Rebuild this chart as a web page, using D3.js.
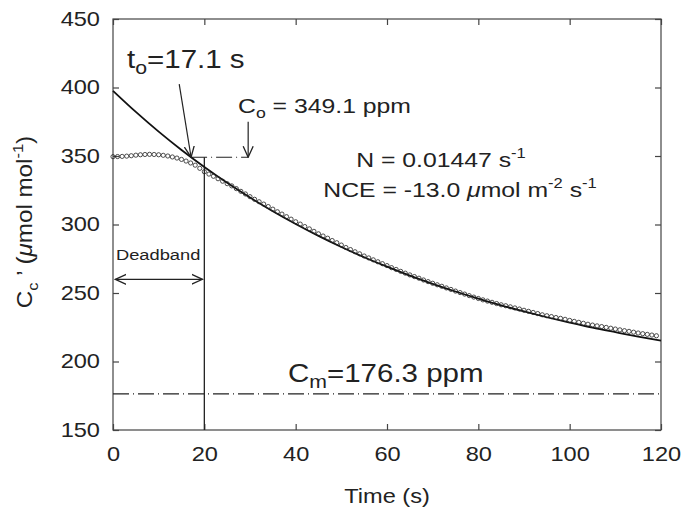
<!DOCTYPE html>
<html>
<head>
<meta charset="utf-8">
<script src="https://cdn.jsdelivr.net/npm/d3@7"></script>
<style>
  html, body { margin: 0; padding: 0; background: #fff; }
  svg text { font-family: "Liberation Sans", Arial, Helvetica, sans-serif; fill: #222; }
</style>
</head>
<body>
<svg id="chart" width="681" height="517"></svg>
<script>
// ---- Data ----
const xTicks = [0, 20, 40, 60, 80, 100, 120];
const yTicks = [150, 200, 250, 300, 350, 400, 450];

// measured Cc' (open circles), one per second, t = 0..119
const obsTime = d3.range(0, 120);
const obsValue = [
  349.5, 349.6, 349.7, 349.9, 350.2, 350.6, 350.9, 351.1, 351.2, 351.1,
  350.9, 350.5, 350.0, 349.3, 348.5, 347.5, 346.3, 344.9, 343.3, 341.0,
  338.5, 336.8, 335.2, 333.4, 331.6, 329.8, 328.2, 326.2, 324.2, 322.3,
  320.3, 318.4, 316.6, 314.9, 313.1, 311.2, 309.3, 307.6, 305.7, 303.9,
  302.0, 300.3, 298.5, 296.8, 295.0, 293.2, 291.6, 290.0, 288.3, 286.7,
  285.0, 283.2, 281.7, 280.1, 278.6, 277.0, 275.6, 274.2, 272.8, 271.4,
  270.0, 268.5, 267.2, 265.8, 264.5, 263.2, 262.0, 260.8, 259.5, 258.3,
  257.1, 256.0, 254.9, 253.7, 252.6, 251.4, 250.3, 249.2, 248.1, 247.0,
  246.0, 245.0, 244.1, 243.2, 242.3, 241.4, 240.7, 239.9, 239.1, 238.3,
  237.4, 236.6, 235.8, 235.0, 234.1, 233.4, 232.8, 232.1, 231.5, 230.8,
  230.0, 229.3, 228.6, 227.9, 227.2, 226.6, 226.0, 225.5, 224.9, 224.3,
  223.7, 223.1, 222.5, 222.0, 221.4, 220.8, 220.3, 219.8, 219.3, 218.8
];

// fitted curve (solid line)
const fitTime  = [0, 5, 10, 15, 20, 25, 30, 35, 40, 45, 50, 55, 60, 65, 70, 75, 80, 85, 90, 95, 100, 105, 110, 115, 120];
const fitValue = [397.6, 382.2, 367.8, 354.4, 342.0, 330.4, 319.7, 309.7, 300.4, 291.7, 283.6, 276.1, 269.2,
                  262.7, 256.7, 251.1, 245.9, 241.0, 236.5, 232.3, 228.4, 224.7, 221.4, 218.2, 215.3];

const t0 = 17.1, C0 = 349.1, Cm = 176.3, deadband = 20, c0ArrowT = 29.6;

// ---- Layout ----
const svg = d3.select("#chart");
const L = 113, R = 661, T = 19, B = 430;
const x = d3.scaleLinear().domain([0, 120]).range([L, R]);
const y = d3.scaleLinear().domain([150, 450]).range([B, T]);
const axisColor = "#444";
const SX = 1.18;      // horizontal stretch of the reference's lettering
const fs = 20;

function stext(px, py, size, anchor) {
  return svg.append("text")
    .attr("transform", `translate(${px},${py}) scale(${SX},1)`)
    .attr("font-size", size).attr("text-anchor", anchor || "start");
}

// defs: arrowheads
const defs = svg.append("defs");
defs.append("marker").attr("id", "arr").attr("viewBox", "0 0 12 12")
  .attr("refX", 11).attr("refY", 6).attr("markerWidth", 12).attr("markerHeight", 12)
  .attr("markerUnits", "userSpaceOnUse").attr("orient", "auto-start-reverse")
  .append("path").attr("d", "M0,1 L11,6 L0,11").attr("fill", "none")
  .attr("stroke", "#222").attr("stroke-width", 1.3);

// frame
svg.append("rect").attr("x", L).attr("y", T).attr("width", R - L).attr("height", B - T)
  .attr("fill", "none").attr("stroke", axisColor).attr("stroke-width", 1.2);

// axes (ticks inward, mirrored)
const tickLen = 6;
const gx = svg.append("g").attr("transform", `translate(0,${B})`)
  .call(d3.axisBottom(x).tickValues(xTicks).tickSize(-tickLen).tickPadding(17).tickFormat(d3.format("d")));
const gxt = svg.append("g").attr("transform", `translate(0,${T})`)
  .call(d3.axisTop(x).tickValues(xTicks).tickSize(-tickLen).tickFormat(""));
const gy = svg.append("g").attr("transform", `translate(${L},0)`)
  .call(d3.axisLeft(y).tickValues(yTicks).tickSize(-tickLen).tickPadding(13).tickFormat(d3.format("d")));
const gyr = svg.append("g").attr("transform", `translate(${R},0)`)
  .call(d3.axisRight(y).tickValues(yTicks).tickSize(-tickLen).tickFormat(""));
[gx, gxt, gy, gyr].forEach(g => {
  g.select(".domain").remove();
  g.selectAll(".tick line").attr("stroke", axisColor).attr("stroke-width", 1.2);
  g.selectAll(".tick text").attr("font-size", fs).attr("fill", "#222")
    .attr("font-family", '"Liberation Sans", Arial, sans-serif');
});
gx.selectAll(".tick text").attr("transform", `scale(${SX},1)`);
gy.selectAll(".tick text").attr("x", -13 / SX).attr("transform", `scale(${SX},1)`);

// axis titles
stext(387, 503, fs, "middle").text("Time (s)");
const yt = svg.append("text")
  .attr("transform", `translate(32,222) rotate(-90) scale(1.1,1)`)
  .attr("text-anchor", "middle").attr("font-size", 22);
yt.append("tspan").text("C");
yt.append("tspan").attr("font-size", 15).attr("dy", 6).text("c");
yt.append("tspan").attr("dy", -6).text(" ’ (");
yt.append("tspan").attr("font-style", "italic").text("μ");
yt.append("tspan").text("mol mol");
yt.append("tspan").attr("font-size", 15).attr("dy", -9).text("-1");
yt.append("tspan").attr("dy", 9).text(")");

// Cm dash-dot line
svg.append("line").attr("x1", x(0)).attr("x2", x(120)).attr("y1", y(Cm)).attr("y2", y(Cm))
  .attr("stroke", "#222").attr("stroke-width", 1.2).attr("stroke-dasharray", "16,4,1,4");

// C0 short dash line
svg.append("line").attr("x1", x(t0)).attr("x2", x(c0ArrowT)).attr("y1", y(C0)).attr("y2", y(C0))
  .attr("stroke", "#222").attr("stroke-width", 1.2).attr("stroke-dasharray", "16,4,1,4");

// deadband vertical line
svg.append("line").attr("x1", x(deadband)).attr("x2", x(deadband)).attr("y1", y(C0)).attr("y2", y(150))
  .attr("stroke", "#222").attr("stroke-width", 1.3);

// fitted curve
const fitData = fitTime.map((t, i) => [t, fitValue[i]]);
svg.append("path").datum(fitData)
  .attr("d", d3.line().x(d => x(d[0])).y(d => y(d[1])).curve(d3.curveMonotoneX))
  .attr("fill", "none").attr("stroke", "#111").attr("stroke-width", 1.8);

// observations
svg.append("g").selectAll("circle").data(obsTime.map((t, i) => [t, obsValue[i]])).join("circle")
  .attr("cx", d => x(d[0])).attr("cy", d => y(d[1])).attr("r", 2.1)
  .attr("fill", "none").attr("stroke", "#222").attr("stroke-width", 0.8);

// arrows
svg.append("line").attr("x1", x(14.5)).attr("y1", y(402.5)).attr("x2", x(t0)).attr("y2", y(C0))
  .attr("stroke", "#222").attr("stroke-width", 1.2).attr("marker-end", "url(#arr)");
svg.append("line").attr("x1", x(c0ArrowT)).attr("y1", y(375)).attr("x2", x(c0ArrowT)).attr("y2", y(C0))
  .attr("stroke", "#222").attr("stroke-width", 1.2).attr("marker-end", "url(#arr)");
svg.append("line").attr("x1", x(0.5)).attr("y1", y(260)).attr("x2", x(19.6)).attr("y2", y(260))
  .attr("stroke", "#222").attr("stroke-width", 1.3)
  .attr("marker-start", "url(#arr)").attr("marker-end", "url(#arr)");

// annotations
const tt = stext(127, 68, 25);
tt.append("tspan").text("t");
tt.append("tspan").attr("font-size", 18).attr("dy", 6).text("o");
tt.append("tspan").attr("dy", -6).text("=17.1 s");

const ct = stext(238, 113, 21);
ct.append("tspan").text("C");
ct.append("tspan").attr("font-size", 15).attr("dy", 5).text("o");
ct.append("tspan").attr("dy", -5).text(" = 349.1 ppm");

const nt = stext(441, 167, 21, "middle");
nt.append("tspan").text("N = 0.01447 s");
nt.append("tspan").attr("font-size", 14).attr("dy", -9).text("-1");

const ne = stext(460, 197, 21, "middle");
ne.append("tspan").text("NCE = -13.0 ");
ne.append("tspan").attr("font-style", "italic").text("μ");
ne.append("tspan").text("mol m");
ne.append("tspan").attr("font-size", 14).attr("dy", -9).text("-2");
ne.append("tspan").attr("dy", 9).text(" s");
ne.append("tspan").attr("font-size", 14).attr("dy", -9).text("-1");

stext(116, 260, 15.5).text("Deadband");

const cm = stext(288, 382, 25);
cm.append("tspan").text("C");
cm.append("tspan").attr("font-size", 18).attr("dy", 6).text("m");
cm.append("tspan").attr("dy", -6).text("=176.3 ppm");
</script>
</body>
</html>
